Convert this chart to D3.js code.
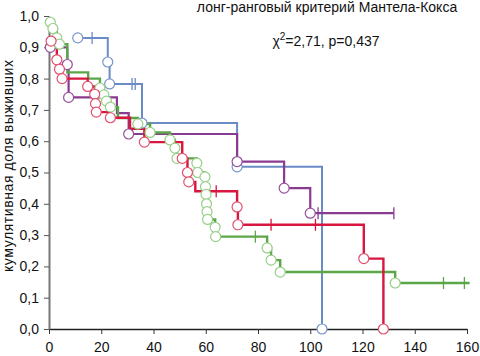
<!DOCTYPE html>
<html>
<head>
<meta charset="utf-8">
<script src="https://cdn.jsdelivr.net/npm/d3@7"></script>
<style>
  body { margin: 0; background: #fff; }
  svg { display: block; font-family: "Liberation Sans", Arial, sans-serif; }
</style>
</head>
<body>
<div id="container"></div>
<script>
// ось X и Y
const xTicks = [0, 20, 40, 60, 80, 100, 120, 140, 160];
const yTicks = [0, 0.1, 0.2, 0.3, 0.4, 0.5, 0.6, 0.7, 0.8, 0.9, 1.0];

// "o" - событие (кружок), "+" - цензурированное, "" - без значка
const blueTime = [11, 16.5, 22.5, 23.2, 31.8, 33, 35.6, 72, 104.5];
const blueSurv = [0.93, 0.93, 0.853, 0.783, 0.783, 0.783, 0.658, 0.518, 0];
const blueMark = ["o", "+", "o", "o", "+", "+", "o", "o", "o"];

const purpleTime = [0.5, 7, 7.5, 17, 26, 30.5, 72, 90, 100, 103, 132];
const purpleSurv = [0.9, 0.845, 0.74, 0.74, 0.69, 0.623, 0.535, 0.45, 0.37, 0.37, 0.37];
const purpleMark = ["o", "o", "o", "+", "", "o", "o", "o", "o", "+", "+"];

const greenTime = [0.5, 1.5, 3, 4, 7, 15, 19.5, 21, 22, 23.5, 26.4, 34, 38.7, 46.3, 48.2, 49,
  56.6, 56.9, 59.7, 59.9, 60.1, 60.3, 60.5, 60.7, 63.6, 63.8, 79, 83.5, 85, 88.5, 132.5, 151, 159, 161];
const greenSurv = [0.98, 0.96, 0.93, 0.91, 0.82, 0.80, 0.77, 0.748, 0.728, 0.709, 0.674, 0.655, 0.628, 0.604, 0.578, 0.545,
  0.53, 0.50, 0.486, 0.455, 0.43, 0.40, 0.375, 0.35, 0.325, 0.295, 0.295, 0.259, 0.22, 0.182, 0.147, 0.147, 0.147, 0.147];
const greenMark = ["o", "o", "o", "o", "", "", "o", "o", "o", "o", "", "o", "o", "o", "o", "o",
  "o", "o", "o", "o", "o", "o", "o", "o", "o", "o", "+", "o", "o", "o", "o", "+", "+", ""];

const redTime = [0.8, 3, 4, 5, 14.8, 17.5, 17.8, 18.1, 23.5, 31, 36.5, 51, 53, 53.5, 56, 64, 72, 72.3, 85, 102, 120.5, 128];
const redSurv = [0.92, 0.86, 0.83, 0.80, 0.775, 0.75, 0.72, 0.693, 0.675, 0.64, 0.597, 0.545, 0.50, 0.47, 0.44, 0.44, 0.39, 0.333, 0.333, 0.333, 0.225, 0];
const redMark = ["o", "o", "o", "o", "o", "o", "o", "o", "o", "", "o", "o", "o", "o", "", "+", "o", "o", "+", "+", "o", "o"];

const series = [
  {time: blueTime, surv: blueSurv, mark: blueMark, line: "#6b8bc6", dot: "#7896cc", w: 2},
  {time: purpleTime, surv: purpleSurv, mark: purpleMark, line: "#8a3a90", dot: "#94509a", w: 2.2},
  {time: greenTime, surv: greenSurv, mark: greenMark, line: "#5aa648", dot: "#98cf88", w: 2.4},
  {time: redTime, surv: redSurv, mark: redMark, line: "#d8163f", dot: "#e2506e", w: 2.4}
];

const width = 480, height = 356;

const svg = d3.select("div#container")
  .append("svg")
  .attr("width", width)
  .attr("height", height);

const x = d3.scaleLinear().domain([0, 160]).range([49, 467]);
const y = d3.scaleLinear().domain([0, 1]).range([329, 16]);

// оси
svg.append("g")
  .attr("transform", "translate(0," + y(0) + ")")
  .call(d3.axisBottom(x).tickValues(xTicks).tickSize(5).tickSizeOuter(0).tickPadding(8))
  .call(g => g.select(".domain").attr("stroke", "#222").attr("stroke-width", 1.5))
  .call(g => g.selectAll(".tick line").attr("stroke", "#333"))
  .call(g => g.selectAll("text").attr("font-size", 14).attr("fill", "#111"));

svg.append("g")
  .attr("transform", "translate(" + x(0) + ",0)")
  .call(d3.axisLeft(y).tickValues(yTicks).tickSize(5).tickSizeOuter(0).tickPadding(5)
    .tickFormat(d => d3.format(".1f")(d).replace(".", ",")))
  .call(g => g.select(".domain").attr("stroke", "#777").attr("stroke-width", 2))
  .call(g => g.selectAll(".tick line").attr("stroke", "#555"))
  .call(g => g.selectAll("text").attr("font-size", 14).attr("fill", "#111"));

// подпись оси Y
svg.append("text")
  .attr("transform", "translate(13,166) rotate(-90)")
  .attr("text-anchor", "middle")
  .attr("font-size", 14)
  .attr("textLength", 212)
  .attr("fill", "#111")
  .text("кумулятивная доля выживших");

// заголовок
svg.append("text")
  .attr("x", 327).attr("y", 12)
  .attr("text-anchor", "middle")
  .attr("font-size", 14)
  .attr("fill", "#111")
  .text("лонг-ранговый критерий Мантела-Кокса");

const chi = svg.append("text")
  .attr("x", 326).attr("y", 46)
  .attr("text-anchor", "middle")
  .attr("font-size", 14)
  .attr("fill", "#111");
chi.append("tspan").text("χ");
chi.append("tspan").attr("dy", -6).attr("font-size", 10).text("2");
chi.append("tspan").attr("dy", 6).text("=2,71, p=0,437");

// кривые
const line = d3.line()
  .x(d => x(d.t))
  .y(d => y(d.s))
  .curve(d3.curveStepAfter);

series.forEach(s => {
  const pts = s.time.map((t, i) => ({t: t, s: s.surv[i], m: s.mark[i]}));
  s.pts = pts;
  svg.append("path")
    .datum(pts)
    .attr("fill", "none")
    .attr("stroke", s.line)
    .attr("stroke-width", s.w)
    .attr("d", line);
});

series.forEach(s => {
  svg.selectAll(null)
    .data(s.pts.filter(d => d.m === "+"))
    .enter()
    .append("path")
    .attr("stroke", s.line)
    .attr("stroke-width", 1.3)
    .attr("d", d => "M" + x(d.t) + "," + (y(d.s) - 6) + "V" + (y(d.s) + 6));

  svg.selectAll(null)
    .data(s.pts.filter(d => d.m === "o"))
    .enter()
    .append("circle")
    .attr("cx", d => x(d.t))
    .attr("cy", d => y(d.s))
    .attr("r", 5)
    .attr("fill", "#fff")
    .attr("stroke", s.dot)
    .attr("stroke-width", 1.2);
});
</script>
</body>
</html>
